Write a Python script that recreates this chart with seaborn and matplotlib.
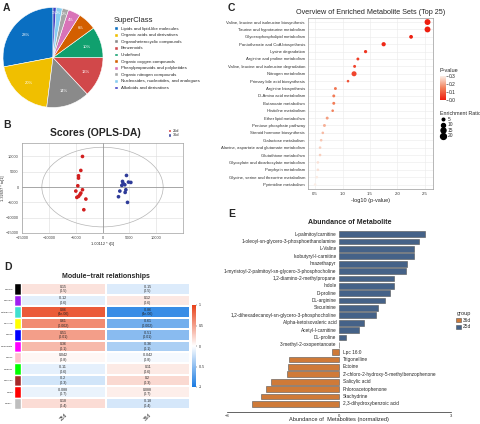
import numpy as np
import pandas as pd
import seaborn as sns
import matplotlib.pyplot as plt
from matplotlib.patches import Ellipse, Patch
from matplotlib.lines import Line2D
from matplotlib.colors import LinearSegmentedColormap, Normalize
from matplotlib.cm import ScalarMappable

sns.set_style('white')
plt.rcParams['font.family'] = ['Liberation Sans', 'DejaVu Sans']

# ---- A: superclass pie
super_classes = ['Lipids and lipid-like molecules', 'Organic acids and derivatives',
                 'Organoheterocyclic compounds', 'Benzenoids', 'Undefined',
                 'Organic oxygen compounds', 'Phenylpropanoids and polyketides',
                 'Organic nitrogen compounds', 'Nucleosides, nucleotides, and analogues',
                 'Alkaloids and derivatives']
super_pct = [28, 20, 14, 13, 10, 6, 4, 2, 2, 1]
super_colors = ['#0a6fc2', '#f0bf00', '#8a8a8a', '#d1484a', '#10a06e',
                '#d35f00', '#d873b8', '#a6a6a6', '#87cdf0', '#3f3fc4']

# ---- B: OPLS-DA scores
b25_t = [-3730, -4040, -4470, -4470, -4600, -3730, -4970, -4040, -4220, -4470, -4780, -3100, -3480]
b25_to = [10000, 5430, 3700, 2930, 430, -870, -1300, -1960, -2500, -3040, -3370, -3910, -7400]
b36_t = [4470, 3730, 3850, 3600, 4160, 4840, 5280, 4350, 3230, 4220, 2980, 4660]
b36_to = [3800, 1850, 1200, 540, 760, 1630, 1520, -870, -1300, -1740, -3150, -5000]

# ---- C: enriched metabolite sets
c_paths = ['Valine, leucine and isoleucine biosynthesis', 'Taurine and hypotaurine metabolism',
           'Glycerophospholipid metabolism', 'Pantothenate and CoA biosynthesis',
           'Lysine degradation', 'Arginine and proline metabolism',
           'Valine, leucine and isoleucine degradation', 'Nitrogen metabolism',
           'Primary bile acid biosynthesis', 'Arginine biosynthesis', 'D-Amino acid metabolism',
           'Butanoate metabolism', 'Histidine metabolism', 'Ether lipid metabolism',
           'Pentose phosphate pathway', 'Steroid hormone biosynthesis', 'Galactose metabolism',
           'Alanine, aspartate and glutamate metabolism', 'Glutathione metabolism',
           'Glyoxylate and dicarboxylate metabolism', 'Porphyrin metabolism',
           'Glycine, serine and threonine metabolism', 'Pyrimidine metabolism']
c_logp = [2.55, 2.55, 2.25, 1.75, 1.42, 1.28, 1.22, 1.21, 1.10, 0.87, 0.84, 0.84, 0.82,
          0.72, 0.67, 0.64, 0.61, 0.59, 0.59, 0.55, 0.55, 0.53, 0.50]
c_ratio = [20, 20, 9, 11, 7, 6, 6, 15, 5, 6, 6, 6, 5, 6, 6, 5, 5, 5, 5, 5, 5, 5, 5]

# ---- D: module-trait
module_names = ['MEblack', 'MEpurple', 'MEturquoise', 'MEyellow', 'MEblue', 'MEmagenta',
                'MEpink', 'MEgreen', 'MEbrown', 'MEred', 'MEgrey']
module_colors = ['black', '#a020f0', '#40e0d0', '#ffff00', '#0000ff', '#ff00ff',
                 '#ffc0cb', '#00ff00', '#a52a2a', '#ff0000', '#bebebe']
cor_25 = [0.15, -0.12, 0.86, 0.61, 0.51, 0.36, 0.042, -0.11, -0.2, -0.088, 0.18]
cor_36 = [-0.15, 0.12, -0.86, -0.61, -0.51, -0.36, -0.042, 0.11, 0.2, 0.088, -0.18]
cor_p = ['0.5', '0.6', '4e-06', '0.002', '0.01', '0.1', '0.8', '0.6', '0.3', '0.7', '0.4']

# ---- E: abundance of metabolites
up_names = ['L-palmitoylcarnitine', '1-oleoyl-sn-glycero-3-phosphoethanolamine', 'L-Valine',
            'Isobutyryl-l-carnitine', 'Imazethapyr',
            '1-myristoyl-2-palmitoyl-sn-glycero-3-phosphocholine', '1,2-diamino-2-methylpropane',
            'Indole', 'D-proline', 'DL-arginine', 'Securinine',
            '1,2-dihexadecanoyl-sn-glycero-3-phosphocholine', 'Alpha-ketoisovaleric acid',
            'Acetyl-l-carnitine', 'DL-proline', '3-methyl-2-oxopentanoate']
up_vals = [2.30, 2.13, 2.02, 2.02, 1.82, 1.80, 1.46, 1.46, 1.37, 1.22, 1.04, 0.98, 0.66, 0.53, 0.18, 0.01]
down_names = ['Lpc 16:0', 'Trigonelline', 'Ectoine', "2'-chloro-2-hydroxy-5-methylbenzophenone",
              'Salicylic acid', 'Phloroacetophenone', 'Stachydrine', '2,3-dihydroxybenzoic acid']
down_vals = [-0.20, -1.33, -1.36, -1.39, -1.82, -1.96, -2.10, -2.34]

W, H = 480, 424
fig = plt.figure(figsize=(4.8, 4.24), dpi=100)


def box(l, t, w, h):
    return fig.add_axes([l / W, 1 - (t + h) / H, w / W, h / H])


def label(x, y, s, **kw):
    fig.text(x / W, 1 - y / H, s, **kw)


# panel letters
for x, y, s in [(3, 3, 'A'), (3, 120, 'B'), (228, 3, 'C'), (4, 262, 'D'), (228, 209, 'E')]:
    label(x, y, s, fontsize=7.5, fontweight='bold', va='top')

# ---------- A
axa = box(3, 7.5, 100, 100)
wedges, texts, autotexts = axa.pie(
    super_pct, colors=super_colors, startangle=90, counterclock=True,
    autopct=lambda p: f'{p:.0f}%', pctdistance=0.71,
    textprops=dict(color='white', fontsize=3.0),
    wedgeprops=dict(edgecolor='white', linewidth=0.4))
for t, p in zip(autotexts, super_pct):
    if p <= 6:
        x, y = t.get_position()
        f = (0.9 if p <= 2 else 0.82) / 0.71
        t.set_position((x * f, y * f))
    if p <= 2:
        t.set_fontsize(2.5)
axa.set_xlim(-1, 1)
axa.set_ylim(-1, 1)
handles = [Patch(facecolor=c) for c in super_colors]
axa.legend(handles, super_classes, loc='upper left', bbox_to_anchor=(110 / W, 1 - 13 / H),
           bbox_transform=fig.transFigure, frameon=False, fontsize=3.2, title='SuperClass',
           title_fontsize=5.5, alignment='left', handlelength=0.9, handleheight=0.9,
           labelspacing=0.5, handletextpad=0.6)

# ---------- B
dfb = pd.DataFrame({'t1': b25_t + b36_t, 'to1': b25_to + b36_to,
                    'group': ['25d'] * len(b25_t) + ['36d'] * len(b36_t)})
axb = box(22, 143, 161, 90)
axb.add_patch(Ellipse((0, 0), 2 * 11300, 2 * 13000, fill=False, edgecolor='#b5b5b5', lw=0.5))
sns.scatterplot(data=dfb, x='t1', y='to1', hue='group',
                palette={'25d': '#d21f1f', '36d': '#2e3b99'}, s=7, linewidth=0,
                legend=False, ax=axb, zorder=3)
axb.axhline(0, color='#8c8c8c', lw=0.5)
axb.axvline(0, color='#8c8c8c', lw=0.5)
axb.set_xlim(-15000, 15000)
axb.set_ylim(-15000, 14400)
axb.set_xticks([-15000, -10000, -5000, 0, 5000, 10000])
axb.set_yticks([-15000, -10000, -5000, 0, 5000, 10000])
axb.grid(color='#dcdcdc', lw=0.4)
for sp in axb.spines.values():
    sp.set_color('#a0a0a0')
    sp.set_linewidth(0.5)
axb.tick_params(labelsize=2.8, length=1.5, width=0.4, pad=1, colors='#444444')
axb.set_xlabel('1.00112 * t[1]', fontsize=2.8, labelpad=1)
axb.set_ylabel('1.32697 * to[1]', fontsize=2.8, labelpad=0.5)
label(95, 133, 'Scores (OPLS-DA)', fontsize=7.5, fontweight='bold', ha='center', va='center')
axb.legend([Patch(facecolor='#d21f1f'), Patch(facecolor='#2e3b99')], ['25d', '36d'],
           loc='upper left', bbox_to_anchor=(164 / W, 1 - 125 / H), bbox_transform=fig.transFigure,
           frameon=False, fontsize=2.8, handlelength=0.9, handleheight=0.9,
           labelspacing=0.2, handletextpad=0.4)

# ---------- C
dfc = pd.DataFrame({'pathway': c_paths, 'logp': c_logp, 'ratio': c_ratio})
dfc['p'] = 10 ** -dfc['logp']
cmap_p = LinearSegmentedColormap.from_list('pv', ['#ee1c0e', '#f2805a', '#fbeee6'])
axc = box(308, 18, 125, 171)
sns.scatterplot(data=dfc, x='logp', y='pathway', hue='p', palette=cmap_p, hue_norm=(0, 0.3),
                size='ratio', sizes=(3.5, 18), size_norm=(5, 20), linewidth=0,
                legend=False, ax=axc, zorder=3)
axc.set_ylim(22.6, -0.55)
axc.set_xlim(0.37, 2.65)
axc.set_xticks([0.5, 1.0, 1.5, 2.0, 2.5])
axc.grid(color='#ebebeb', lw=0.4)
for sp in axc.spines.values():
    sp.set_color('#9a9a9a')
    sp.set_linewidth(0.5)
axc.tick_params(labelsize=3.1, length=1.2, width=0.4, pad=1, colors='#333333')
axc.set_ylabel('')
axc.set_xlabel('-log10 (p-value)', fontsize=4, labelpad=1.5)
axc.set_title('Overview of Enriched Metabolite Sets (Top 25)', fontsize=5.2, pad=3)
caxc = box(440, 76, 5.5, 24)
cb = fig.colorbar(ScalarMappable(Normalize(0, 0.3), cmap_p), cax=caxc, ticks=[0, 0.1, 0.2, 0.3],
                  format='%.1f')
cb.outline.set_visible(False)
caxc.tick_params(labelsize=3.5, length=1.2, width=0.4, pad=1)
label(439, 71, 'P-value', fontsize=4, va='center')
size_handles = []
for r in [5, 10, 15, 20]:
    s = 3.5 + (r - 5) / 15 * (18 - 3.5)
    size_handles.append(Line2D([], [], ls='', marker='o', color='black', markersize=np.sqrt(s)))
axc.legend(size_handles, ['5', '10', '15', '20'], loc='upper left',
           bbox_to_anchor=(436 / W, 1 - 107 / H), bbox_transform=fig.transFigure,
           frameon=False, fontsize=3.5, title='Enrichment Ratio', title_fontsize=3.8,
           alignment='left', handlelength=1, labelspacing=0.1, handletextpad=0.5)

# ---------- D
cor_df = pd.DataFrame({'25d': cor_25, '36d': cor_36}, index=module_names)
annot_df = pd.DataFrame({'25d': [f'{c:g}\n({p})' for c, p in zip(cor_25, cor_p)],
                         '36d': [f'{c:g}\n({p})' for c, p in zip(cor_36, cor_p)]},
                        index=module_names)
cmap_mt = LinearSegmentedColormap.from_list('mt', ['#1a7be2', '#ffffff', '#e8421a'])
axd = box(21, 283.3, 169, 126)
caxd = box(192, 305, 4.3, 82)
sns.heatmap(cor_df, annot=annot_df, fmt='', cmap=cmap_mt, vmin=-1, vmax=1, cbar_ax=caxd,
            annot_kws=dict(fontsize=2.5, color='#222222'), linewidths=0.3, linecolor='white',
            yticklabels=False, ax=axd, cbar_kws=dict(ticks=[-1, -0.5, 0, 0.5, 1], format='%g'))
axd.tick_params(axis='x', labelsize=3.5, length=0, pad=2)
for t in axd.get_xticklabels():
    t.set_rotation(45)
caxd.tick_params(labelsize=2.5, length=1, width=0.3, pad=1)
axd.set_title('Module\u2212trait relationships', fontsize=5, fontweight='bold', pad=4)
axs = box(14, 283.3, 7, 126)
axs.barh(np.arange(len(module_names)), 1, height=1, color=module_colors)
axs.set_ylim(len(module_names) - 0.5, -0.5)
axs.set_xlim(0, 1)
axs.set_xticks([])
axs.set_yticks(np.arange(len(module_names)))
axs.set_yticklabels(module_names, fontsize=1.6)
axs.tick_params(length=0, pad=0.8)
for sp in axs.spines.values():
    sp.set_visible(False)

# ---------- E
dfe = pd.DataFrame({'metabolite': up_names + down_names, 'abundance': up_vals + down_vals,
                    'group': ['25d'] * len(up_names) + ['36d'] * len(down_names)})
axe = box(227, 229, 224, 182.7)
sns.barplot(data=dfe, x='abundance', y='metabolite', hue='group', hue_order=['36d', '25d'],
            palette={'36d': '#e8771f', '25d': '#3a6193'}, dodge=False, orient='h', width=0.78,
            errorbar=None, edgecolor='#555555', linewidth=0.4, ax=axe)
axe.set_ylim(len(dfe) - 1 + 1.07, -0.7)
axe.set_xlim(-3, 3)
axe.set_xticks([-3, 0, 3])
axe.set_yticks([])
axe.set_ylabel('')
axe.set_xlabel('')
for i, (name, v) in enumerate(zip(dfe['metabolite'], dfe['abundance'])):
    if v >= 0:
        axe.text(-0.07, i, name, ha='right', va='center', fontsize=3.4)
    else:
        axe.text(0.11, i, name, ha='left', va='center', fontsize=3.4)
for k in ['top', 'right', 'left']:
    axe.spines[k].set_visible(False)
axe.spines['bottom'].set_linewidth(0.5)
axe.tick_params(axis='x', labelsize=3.0, length=1.2, width=0.4, pad=0.4)
label(339, 420, 'Abundance of  Metabolites (normalized)', fontsize=4.1, ha='center', va='center')
label(350, 222, 'Abundance of Metabolite', fontsize=5, fontweight='bold', ha='center', va='center')
sns.move_legend(axe, 'upper left', bbox_to_anchor=(452 / W, 1 - 307 / H),
                bbox_transform=fig.transFigure, frameon=False, title='group', fontsize=3.5,
                title_fontsize=4, handlelength=0.9, handleheight=0.9, labelspacing=0.3,
                handletextpad=0.5)

fig.savefig('out.png', dpi=100)
